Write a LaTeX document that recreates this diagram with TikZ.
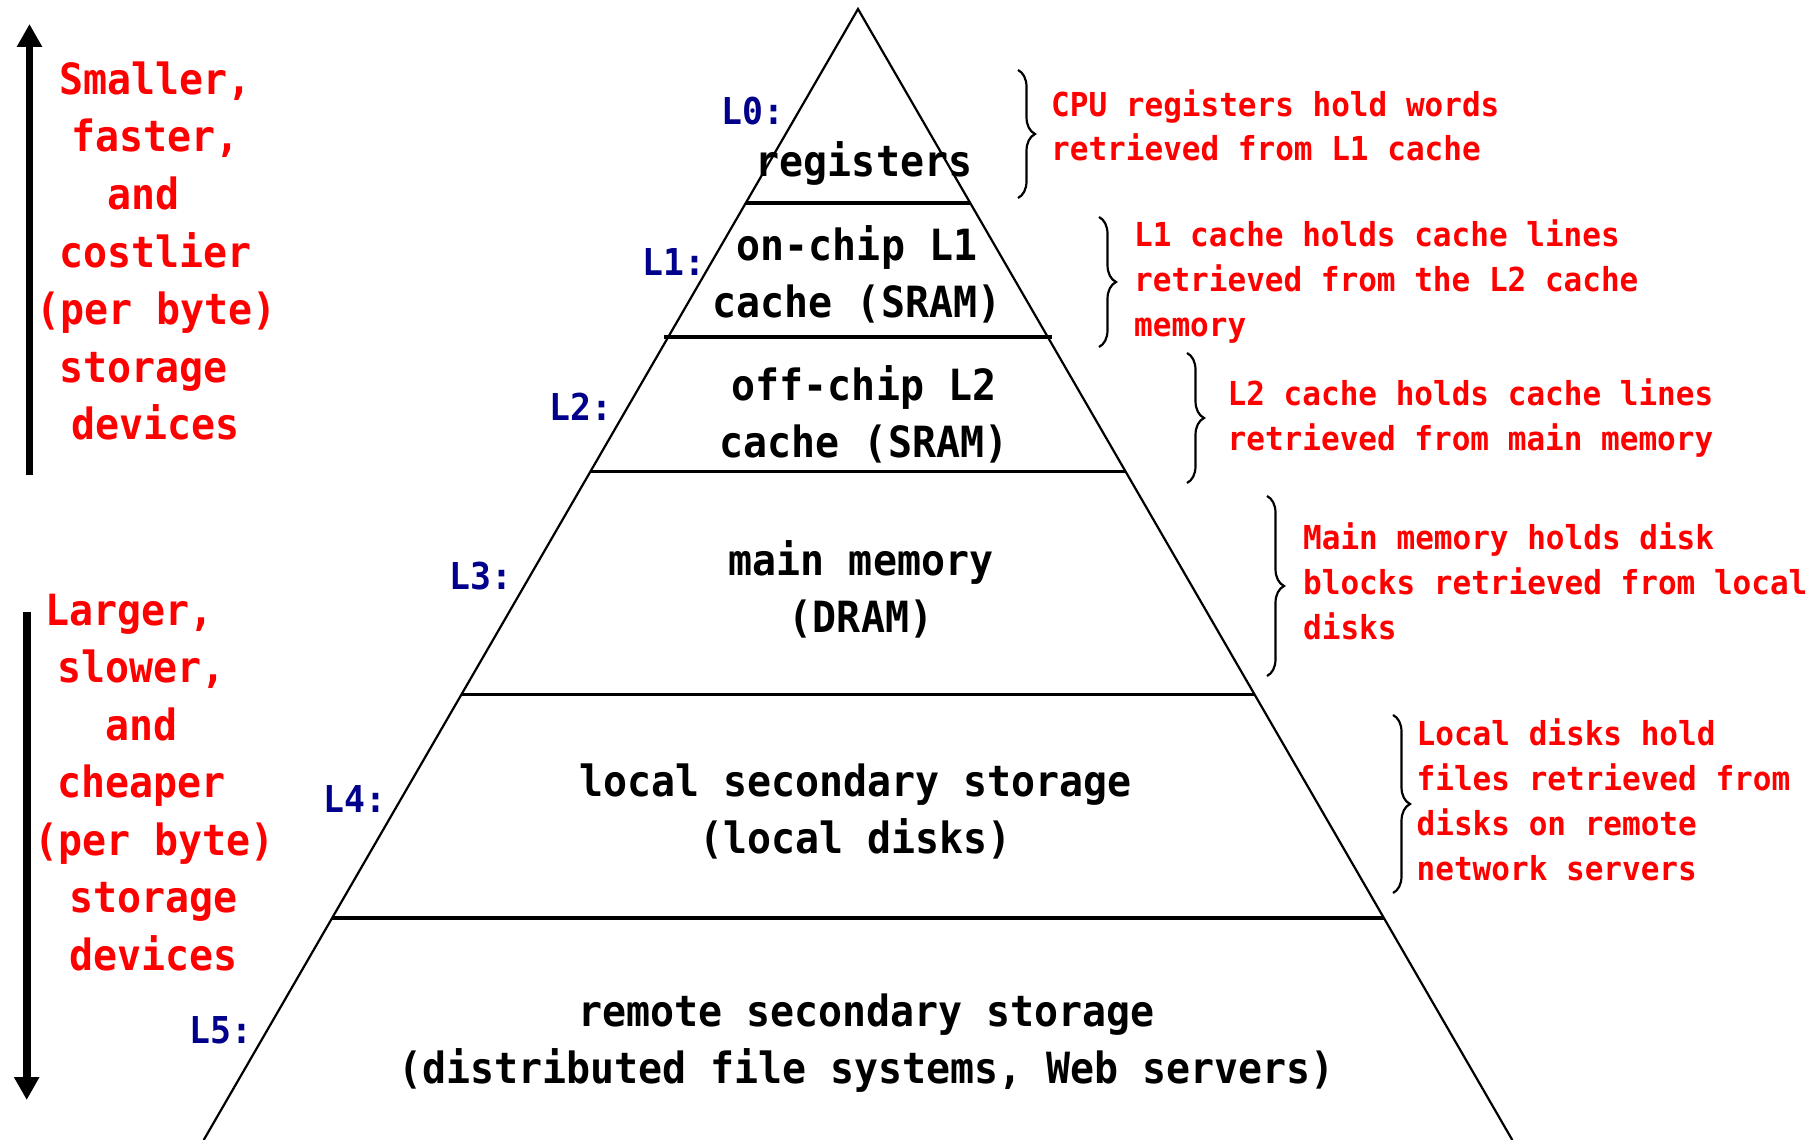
\documentclass[tikz,border=0pt]{standalone}
\usepackage{fontspec}
\newfontfamily\hiermono[FakeStretch=0.928]{DejaVu Sans Mono}
\newfontfamily\notemono[FakeStretch=0.94]{DejaVu Sans Mono}
\usetikzlibrary{arrows.meta,decorations.pathreplacing,calc}
\definecolor{tagblue}{RGB}{0,0,139}
\definecolor{notered}{RGB}{255,0,0}
\begin{document}
\begin{tikzpicture}[x=1pt,y=-1pt,
  tiertext/.style={font={\hiermono\bfseries\fontsize{43}{57}\selectfont}, inner sep=0pt, anchor=base},
  sidetext/.style={font={\hiermono\bfseries\fontsize{43}{57}\selectfont}, text=notered, inner sep=0pt, anchor=base west},
  notetext/.style={font={\notemono\bfseries\fontsize{33}{45}\selectfont}, text=notered, inner sep=0pt, anchor=base west},
  leveltag/.style={font={\notemono\bfseries\fontsize{37}{45}\selectfont}, text=tagblue, inner sep=0pt, anchor=base west},
  curly/.style={decorate, decoration={brace, amplitude=17pt}, line width=2.2pt},
  tierline/.style={line width=3.2pt},
  sideline/.style={line width=2.2pt},
  trend/.style={line width=7.6pt, -{Triangle[length=23pt,width=24pt]}},
]
\useasboundingbox (0,0) rectangle (1820,1140);

% pyramid outline
\coordinate (apex) at (858,9);
\coordinate (baseL) at (203.7,1140);
\coordinate (baseR) at (1512.3,1140);
\draw[sideline, line join=miter] (baseL) -- (apex) -- (baseR);

% boundaries between the levels
\draw[tierline] ($(apex)!0.17153!(baseL)$) -- ($(apex)!0.17153!(baseR)$);
\draw[tierline] ($(apex)!0.29001!(baseL)+(-4,0)$) -- ($(apex)!0.29001!(baseR)+(4,0)$);
\draw[tierline] ($(apex)!0.40893!(baseL)$) -- ($(apex)!0.40893!(baseR)$);
\draw[tierline] ($(apex)!0.60610!(baseL)$) -- ($(apex)!0.60610!(baseR)$);
\draw[tierline] ($(apex)!0.80371!(baseL)$) -- ($(apex)!0.80371!(baseR)$);

% level contents
\node[tiertext] (reg)  at (864,176.5)   {registers};
\node[tiertext] (l1a)  at (857,260)     {on-chip L1};
\node[tiertext] (l1b)  at (857,317.5)   {cache (SRAM)};
\node[tiertext] (l2a)  at (864,400)     {off-chip L2};
\node[tiertext] (l2b)  at (864,457)     {cache (SRAM)};
\node[tiertext] (l3a)  at (861,575.5)   {main memory};
\node[tiertext] (l3b)  at (861,632.6)   {(DRAM)};
\node[tiertext] (l4a)  at (855.5,796)   {local secondary storage};
\node[tiertext] (l4b)  at (855.5,853)   {(local disks)};
\node[tiertext] (l5a)  at (866.5,1026.5){remote secondary storage};
\node[tiertext] (l5b)  at (866.5,1083.7){(distributed file systems, Web servers)};

% level tags
\node[leveltag] (t0) at (721,124)     {L0:};
\node[leveltag] (t1) at (642,275)     {L1:};
\node[leveltag] (t2) at (549.5,420.7) {L2:};
\node[leveltag] (t3) at (449.5,589)   {L3:};
\node[leveltag] (t4) at (323.5,812.2) {L4:};
\node[leveltag] (t5) at (189,1043.3)  {L5:};

% trend arrows
\coordinate (upfoot) at (29.5,475);
\coordinate (uptip) at (29.5,24);
\draw[trend] (upfoot) -- (uptip);
\coordinate (downtop) at (26.7,611.7);
\coordinate (downtip) at (26.7,1100);
\draw[trend] (downtop) -- (downtip);

% upward trend text
\node[sidetext] (u1) at (59.5,94.3)  {Smaller,};
\node[sidetext] (u2) at (71.5,151.9) {faster,};
\node[sidetext] (u3) at (107.5,209.5){and};
\node[sidetext] (u4) at (59.5,267.1) {costlier};
\node[sidetext] (u5) at (36,324.7)   {(per byte)};
\node[sidetext] (u6) at (59.5,382.3) {storage};
\node[sidetext] (u7) at (71.5,439.9) {devices};

% downward trend text
\node[sidetext] (d1) at (45.5,625)   {Larger,};
\node[sidetext] (d2) at (57.5,682.5) {slower,};
\node[sidetext] (d3) at (105.5,740)  {and};
\node[sidetext] (d4) at (57.5,797.5) {cheaper};
\node[sidetext] (d5) at (34,855)     {(per byte)};
\node[sidetext] (d6) at (69.5,912.5) {storage};
\node[sidetext] (d7) at (69.5,970)   {devices};

% braces and notes
\draw[curly] (1018,70) -- (1018,198);
\node[notetext] (n0a) at (1051,116)   {CPU registers hold words};
\node[notetext] (n0b) at (1051,160.7) {retrieved from L1 cache};

\draw[curly] (1099,217) -- (1099,347);
\node[notetext] (n1a) at (1134,246)   {L1 cache holds cache lines};
\node[notetext] (n1b) at (1134,291.7) {retrieved from the L2 cache};
\node[notetext] (n1c) at (1134,336.7) {memory};

\draw[curly] (1187,353) -- (1187,483);
\node[notetext] (n2a) at (1227.5,405.7) {L2 cache holds cache lines};
\node[notetext] (n2b) at (1227.5,450.7) {retrieved from main memory};

\draw[curly] (1267,496) -- (1267,676);
\node[notetext] (n3a) at (1303,549.5) {Main memory holds disk};
\node[notetext] (n3b) at (1303,594.5) {blocks retrieved from local};
\node[notetext] (n3c) at (1303,639.5) {disks};

\draw[curly] (1393,715) -- (1393,893);
\node[notetext] (n4a) at (1416.5,745) {Local disks hold};
\node[notetext] (n4b) at (1416.5,790) {files retrieved from};
\node[notetext] (n4c) at (1416.5,835) {disks on remote};
\node[notetext] (n4d) at (1416.5,880) {network servers};
\end{tikzpicture}
\end{document}
